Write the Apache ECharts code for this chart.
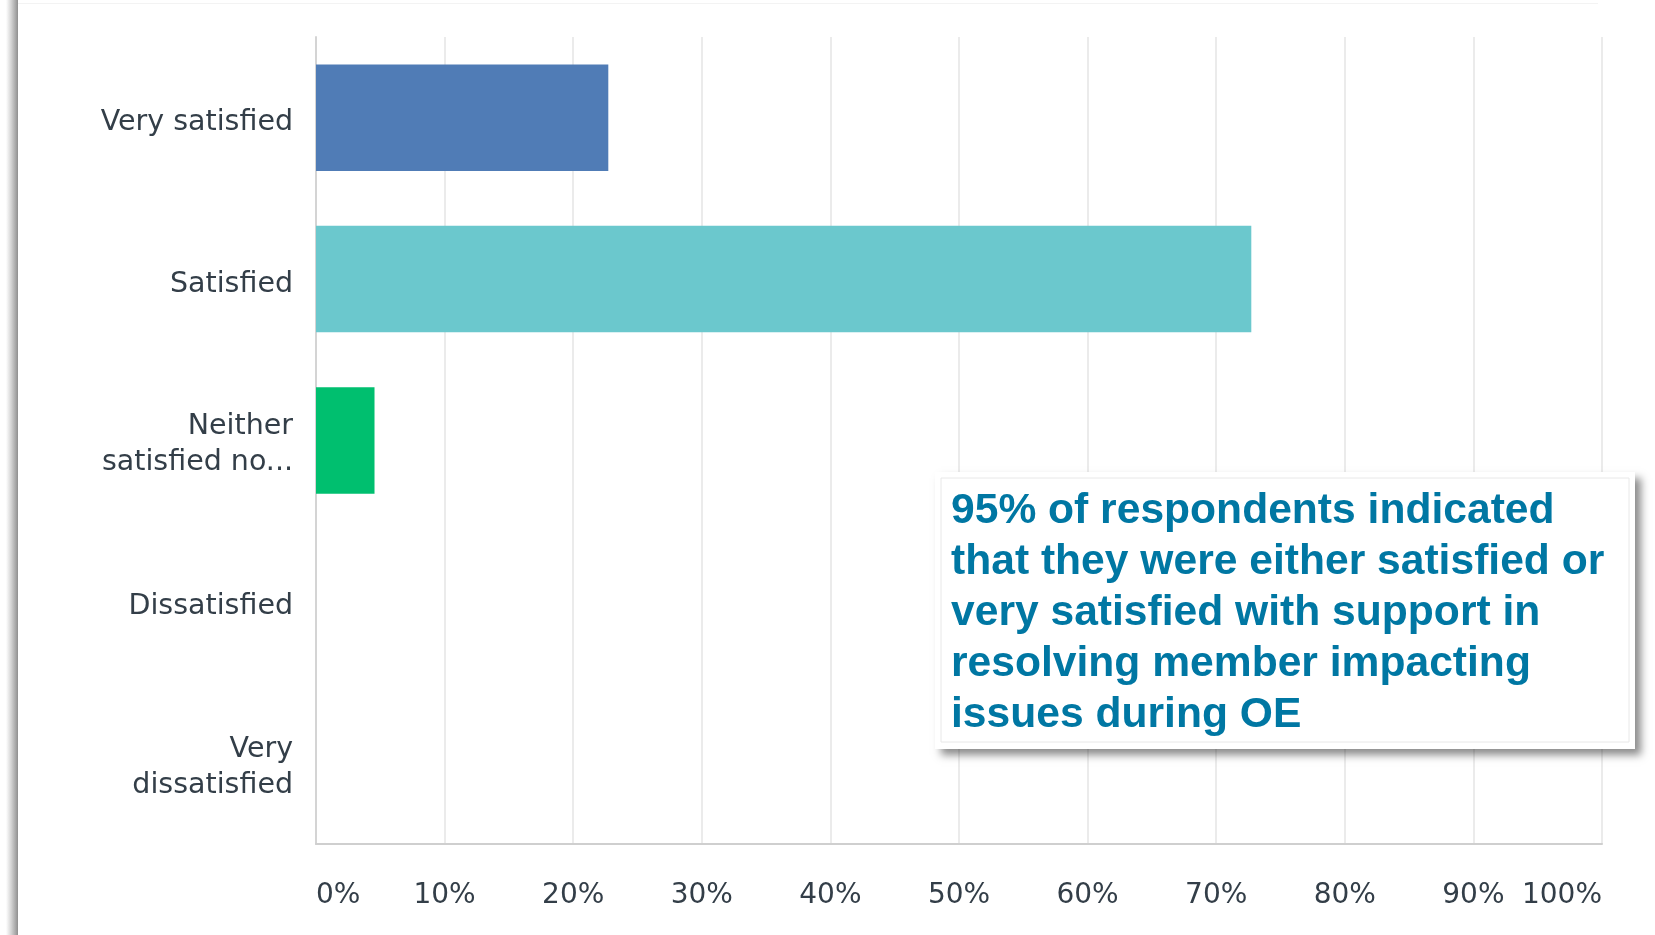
<!DOCTYPE html>
<html lang="en" style="height: 100%">
<head>
  <meta charset="utf-8">
  <style>
    html,body {
      margin: 0;
      padding: 0;
      width: 100%;
      height: 100%;
      overflow: hidden;
      background: #fff;
    }
  </style>
</head>
<body>
  <div id="container" style="height: 100%;width: 100%;"></div>

  <script type="text/javascript" src="https://cdn.jsdelivr.net/npm/echarts@6/dist/echarts.min.js"></script>
  <script type="text/javascript">
    // survey answers, top to bottom
    let categories = ['Very satisfied', 'Satisfied', 'Neither\nsatisfied no...', 'Dissatisfied', 'Very\ndissatisfied'];
    let percentValues = [22.73, 72.73, 4.55, 0, 0];
    let barColors = ['#507cb6', '#6bc8cd', '#00bf6f', '#f9be00', '#d25f90'];
    let axisMax = 100;
    let axisStep = 10;
    let noteLines = [
      '95% of respondents indicated',
      'that they were either satisfied or',
      'very satisfied with support in',
      'resolving member impacting',
      'issues during OE'
    ];

    var dom = document.getElementById('container');
    var myChart = echarts.init(dom, null, {
      renderer: 'canvas',
      useDirtyRect: false
    });

    let labelFont = '"DejaVu Sans", "Open Sans", sans-serif';

    let barData = percentValues.map(function (v, i) {
      return {
        value: v,
        itemStyle: { color: barColors[i] }
      };
    });

    // first line gets a bit of top padding so labels sit slightly below bar centre
    function categoryLabel(value) {
      return value.split('\n').map(function (line, i) {
        return (i === 0 ? '{f|' : '{t|') + line + '}';
      }).join('\n');
    }

    let labelRich = {
      f: {
        color: '#333e48',
        fontSize: 28.5,
        fontFamily: labelFont,
        lineHeight: 37,
        padding: [10, 0, 0, 0]
      },
      t: {
        color: '#333e48',
        fontSize: 28.5,
        fontFamily: labelFont,
        lineHeight: 37,
        padding: [8, 0, 0, 0]
      }
    };

    var option = {
      animation: false,
      grid: {
        left: 316,
        right: 53,
        top: 37,
        bottom: 91
      },
      xAxis: {
        type: 'value',
        min: 0,
        max: axisMax,
        interval: axisStep,
        axisLine: {
          show: true,
          lineStyle: { color: '#cfcfcf', width: 2 }
        },
        axisTick: { show: false },
        splitLine: {
          show: true,
          lineStyle: { color: '#ebebeb', width: 2 }
        },
        axisLabel: {
          formatter: '{value}%',
          color: '#333e48',
          fontSize: 28,
          fontFamily: labelFont,
          margin: 38,
          alignMinLabel: 'left',
          alignMaxLabel: 'right'
        }
      },
      yAxis: {
        type: 'category',
        data: categories,
        inverse: true,
        axisLine: {
          show: true,
          lineStyle: { color: '#d4d4d4', width: 2 }
        },
        axisTick: { show: false },
        axisLabel: {
          formatter: categoryLabel,
          rich: labelRich,
          margin: 23
        }
      },
      series: [{
        type: 'bar',
        data: barData,
        barWidth: '66%'
      }],
      graphic: [
        {
          // left edge shadow of the pasted screenshot
          type: 'rect',
          shape: { x: 6, y: 0, width: 12, height: 935 },
          style: {
            fill: new echarts.graphic.LinearGradient(0, 0, 1, 0, [
              { offset: 0, color: 'rgba(150,150,150,0)' },
              { offset: 1, color: 'rgba(130,130,130,0.9)' }
            ])
          },
          silent: true
        },
        {
          type: 'rect',
          shape: { x: 18, y: 3, width: 1580, height: 1 },
          style: { fill: '#f3f3f3' },
          silent: true
        },
        {
          // callout box
          type: 'rect',
          shape: { x: 935, y: 472, width: 700, height: 277 },
          style: {
            fill: '#fff',
            shadowBlur: 8,
            shadowOffsetX: 6,
            shadowOffsetY: 6,
            shadowColor: 'rgba(0,0,0,0.45)'
          },
          z: 10,
          silent: true
        },
        {
          type: 'rect',
          shape: { x: 941, y: 478, width: 688, height: 264 },
          style: { fill: 'none', stroke: '#e8e8e8', lineWidth: 1 },
          z: 11,
          silent: true
        },
        {
          type: 'text',
          x: 951,
          y: 486,
          style: {
            text: noteLines.join('\n'),
            fill: '#0077a3',
            fontSize: 42.6,
            fontWeight: 'bold',
            fontFamily: '"Liberation Sans", Arial, sans-serif',
            lineHeight: 51,
            verticalAlign: 'top'
          },
          z: 12,
          silent: true
        }
      ]
    };

    myChart.setOption(option);
    window.addEventListener('resize', myChart.resize);
  </script>
</body>
</html>
